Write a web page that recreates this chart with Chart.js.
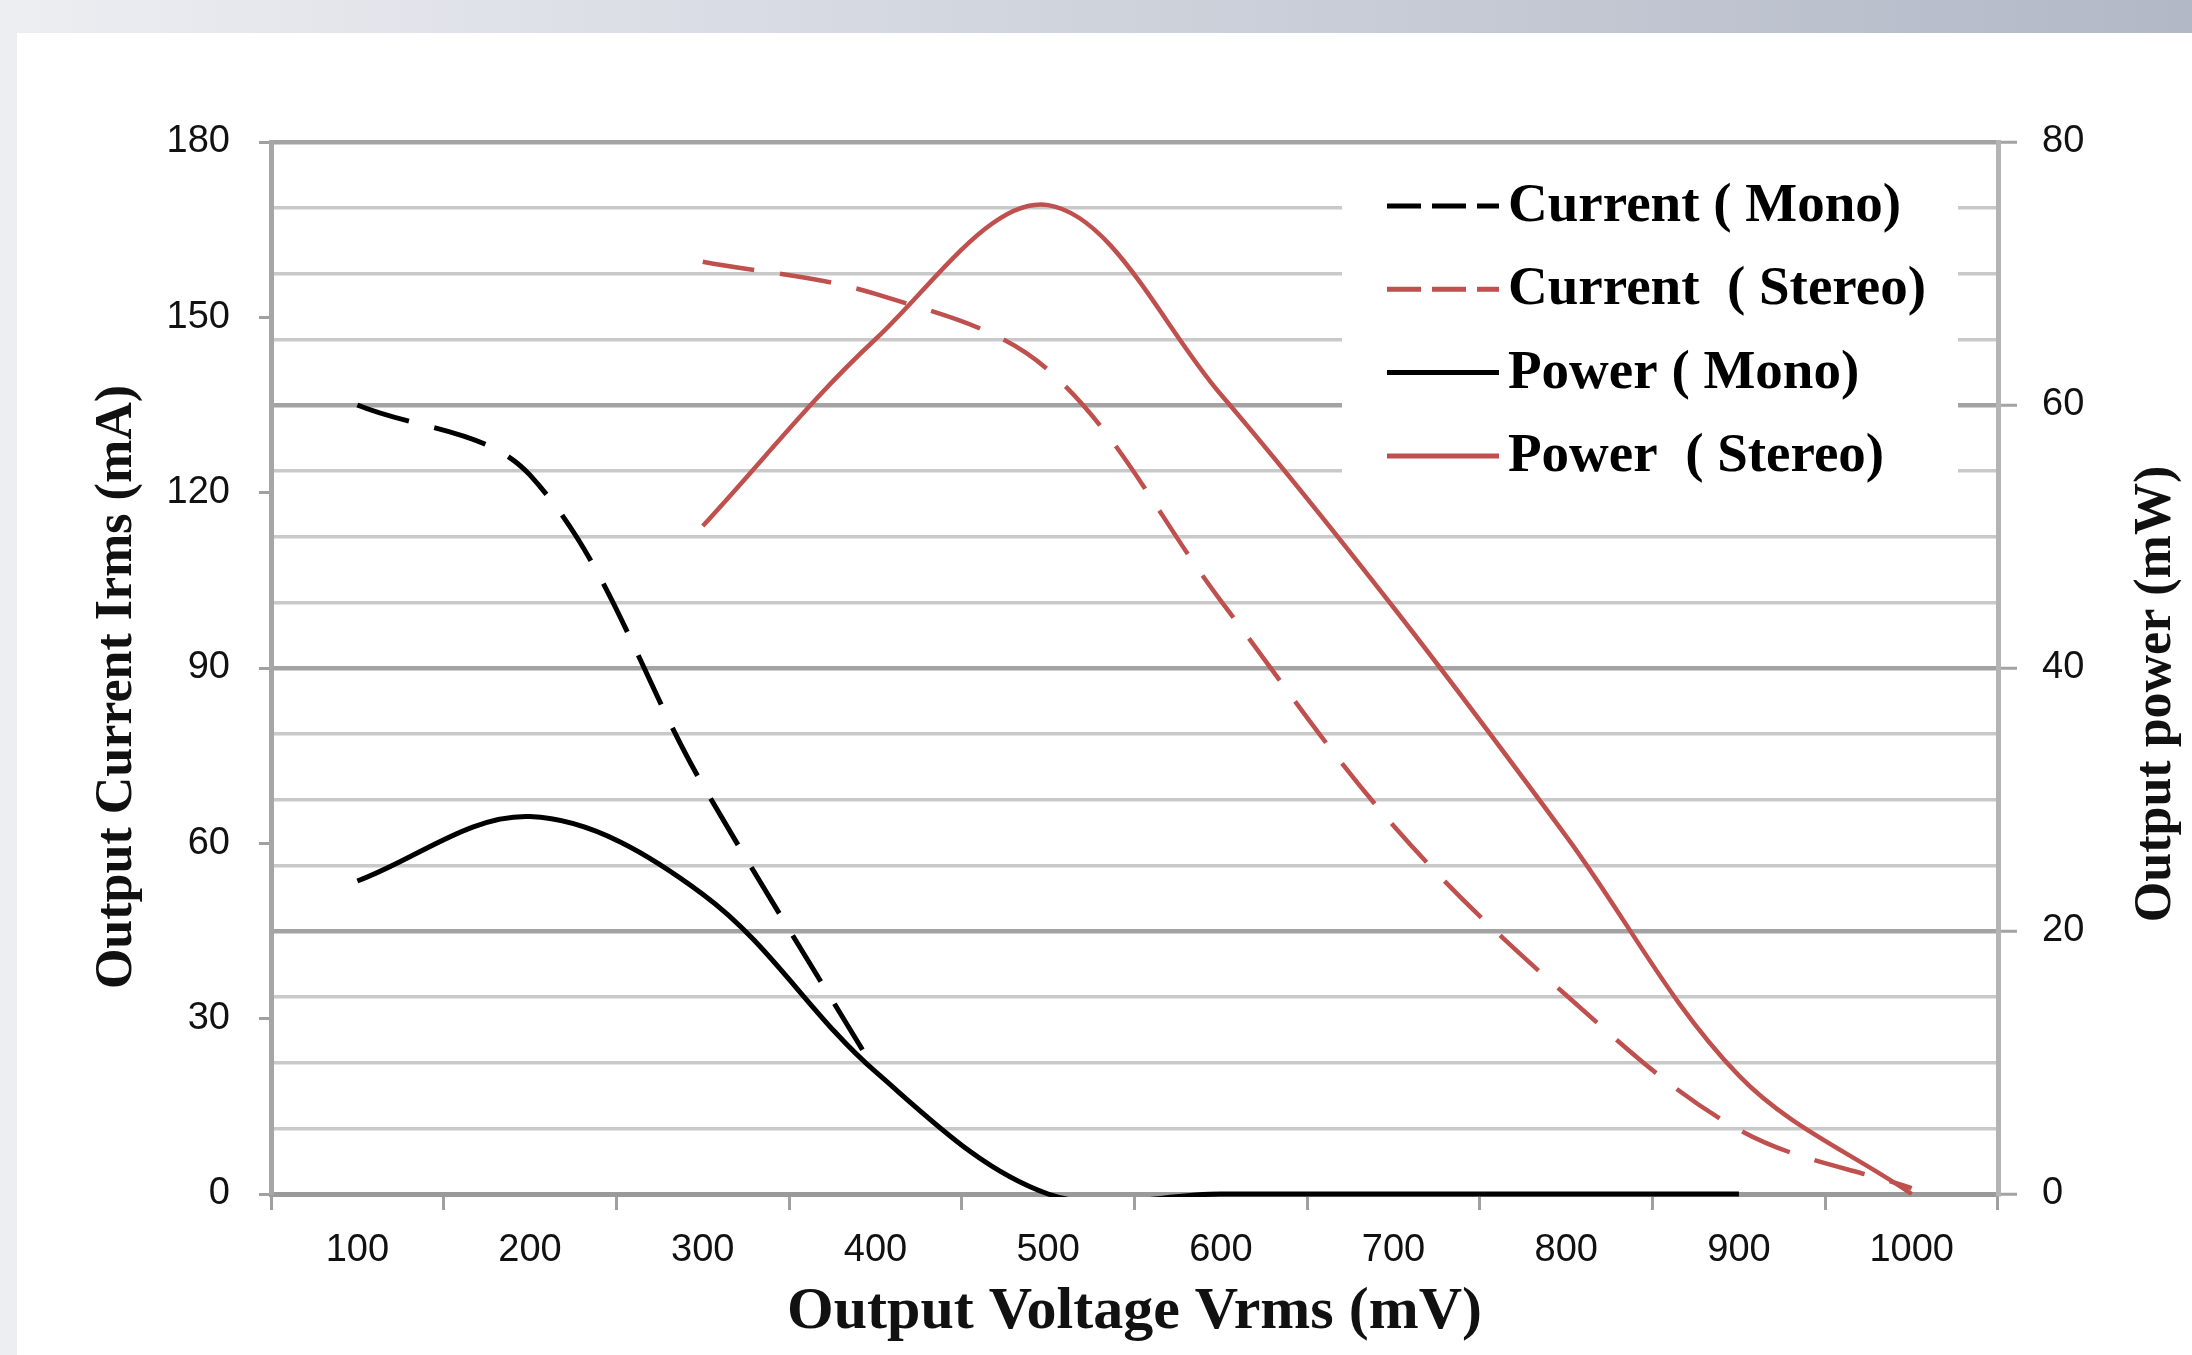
<!DOCTYPE html>
<html>
<head>
<meta charset="utf-8">
<title>Output current and power vs output voltage</title>
<script src="https://cdn.jsdelivr.net/npm/chart.js@4.4.1/dist/chart.umd.min.js"></script>
<style>
    html, body { margin: 0; padding: 0; }
    body {
        width: 2192px;
        height: 1355px;
        overflow: hidden;
        position: relative;
        background: #eceef2;
    }
    #band {
        position: absolute;
        left: 0; top: 0;
        width: 2192px; height: 33px;
        background: linear-gradient(to right, #eceef2, #b2b8c6);
    }
    #wrap {
        position: absolute;
        left: 17px; top: 33px;
        width: 2175px; height: 1322px;
        background: #fff;
    }
</style>
</head>
<body>
<div id="band"></div>
<div id="wrap"><canvas id="chart" width="2175" height="1322"></canvas></div>
<script>
// Output voltage Vrms (mV) - x categories
const voltages = ['100', '200', '300', '400', '500', '600', '700', '800', '900', '1000'];

// Output current Irms (mA) - left axis
const currentMono   = [135, 123, 70, 21, null, null, null, null, null, null];
const currentStereo = [null, null, 159.5, 154, 141, 101.5, 63, 34, 11, 1];

// Output power (mW) - right axis
const powerMono   = [23.8, 28.7, 22.8, 9.3, 0, 0, 0, 0, 0, null];
const powerStereo = [null, null, 50.8, 65, 75.2, 60.8, 44.6, 27.2, 9, 0];

// Tick labels
const currentTicks = [0, 30, 60, 90, 120, 150, 180];
const powerTicks = [0, 20, 40, 60, 80];
const powerGridStep = 5; // light grid lines every 5 mW

const red = '#c0504d';
const tickFont = { family: 'Liberation Sans', size: 38 };
const titleFamily = 'Liberation Serif';

// Legend box (covers the grid like the original) and the two vertical titles
const decorations = {
    id: 'decorations',
    afterDraw(chart) {
        const { ctx, chartArea } = chart;
        ctx.save();

        // legend
        const boxLeft = chartArea.right - 656;
        const boxRight = chartArea.right - 40;
        ctx.fillStyle = '#fff';
        ctx.fillRect(boxLeft, chartArea.top + 11, boxRight - boxLeft, 360);

        ctx.font = 'bold 55px ' + titleFamily;
        ctx.textAlign = 'left';
        ctx.textBaseline = 'alphabetic';
        chart.data.datasets.forEach((ds, i) => {
            const y = chartArea.top + 64 + i * 83.3;
            ctx.strokeStyle = ds.borderColor;
            ctx.lineWidth = 5;
            ctx.setLineDash(ds.borderDash ? [34, 11] : []);
            ctx.beginPath();
            ctx.moveTo(chartArea.right - 611, y);
            ctx.lineTo(chartArea.right - 499, y);
            ctx.stroke();
            ctx.setLineDash([]);
            ctx.fillStyle = '#000';
            ctx.fillText(ds.label, chartArea.right - 490, y + 15);
        });

        // axis titles, both read bottom to top
        ctx.font = 'bold 52px ' + titleFamily;
        ctx.textAlign = 'center';
        ctx.fillStyle = '#111';

        ctx.save();
        ctx.translate(114, 654);
        ctx.rotate(-Math.PI / 2);
        ctx.fillText('Output Current Irms (mA)', 0, 0);
        ctx.restore();

        ctx.save();
        ctx.translate(2153, 661);
        ctx.rotate(-Math.PI / 2);
        ctx.fillText('Output power (mW)', 0, 0);
        ctx.restore();

        ctx.restore();
    }
};

const ctx = document.getElementById('chart').getContext('2d');
const chart = new Chart(ctx, {
    type: 'line',
    data: {
        labels: voltages,
        datasets: [
            {
                label: 'Current ( Mono)',
                data: currentMono,
                yAxisID: 'y',
                borderColor: '#000',
                borderWidth: 5,
                borderDash: [54, 26]
            },
            {
                label: 'Current  ( Stereo)',
                data: currentStereo,
                yAxisID: 'y',
                borderColor: red,
                borderWidth: 4.5,
                borderDash: [52, 26]
            },
            {
                label: 'Power ( Mono)',
                data: powerMono,
                yAxisID: 'y1',
                borderColor: '#000',
                borderWidth: 5,
                capBezierPoints: false,
                clip: 3 // keep the zero run fully visible on the axis
            },
            {
                label: 'Power  ( Stereo)',
                data: powerStereo,
                yAxisID: 'y1',
                borderColor: red,
                borderWidth: 4.5,
                clip: 3
            }
        ]
    },
    options: {
        responsive: false,
        animation: false,
        events: [],
        layout: { padding: { top: 109, left: 0, right: 0, bottom: 0 } },
        elements: {
            point: { radius: 0 },
            line: { tension: 0.35, fill: false }
        },
        plugins: {
            legend: { display: false },
            tooltip: { enabled: false }
        },
        scales: {
            x: {
                type: 'category',
                offset: true,
                grid: {
                    offset: true,
                    drawOnChartArea: false,
                    tickLength: 16,
                    tickWidth: 3,
                    tickColor: '#a0a0a0'
                },
                border: { color: '#9a9a9a', width: 5 },
                ticks: {
                    font: tickFont,
                    color: '#111',
                    padding: 18,
                    maxRotation: 0,
                    autoSkip: false
                },
                title: {
                    display: true,
                    text: 'Output Voltage Vrms (mV)',
                    font: { family: titleFamily, size: 60, weight: 'bold' },
                    color: '#111',
                    padding: { top: 0, bottom: 7 }
                },
                afterFit: (scale) => { scale.height = 161; }
            },
            y: {
                position: 'left',
                min: currentTicks[0],
                max: currentTicks[currentTicks.length - 1],
                grid: {
                    drawOnChartArea: false,
                    tickLength: 12,
                    tickWidth: 3,
                    tickColor: '#a0a0a0'
                },
                border: { color: '#a6a6a6', width: 5 },
                ticks: {
                    stepSize: currentTicks[1] - currentTicks[0],
                    font: tickFont,
                    color: '#111',
                    padding: 29
                },
                afterFit: (scale) => { scale.width = 254; }
            },
            y1: {
                position: 'right',
                min: powerTicks[0],
                max: powerTicks[powerTicks.length - 1],
                grid: {
                    color: (c) => powerTicks.includes(c.tick.value) ? '#a3a3a3' : '#c9c9c9',
                    lineWidth: (c) => powerTicks.includes(c.tick.value) ? 4.5 : 3.5,
                    tickColor: (c) => powerTicks.includes(c.tick.value) ? '#a3a3a3' : 'rgba(0,0,0,0)',
                    tickLength: 19,
                    tickWidth: 3
                },
                border: { color: '#b4b4b4', width: 5 },
                ticks: {
                    stepSize: powerGridStep,
                    autoSkip: false,
                    font: tickFont,
                    color: '#111',
                    padding: 25,
                    callback: (v) => powerTicks.includes(v) ? v : ''
                },
                afterFit: (scale) => { scale.width = 194; }
            }
        }
    },
    plugins: [decorations]
});
</script>
</body>
</html>
